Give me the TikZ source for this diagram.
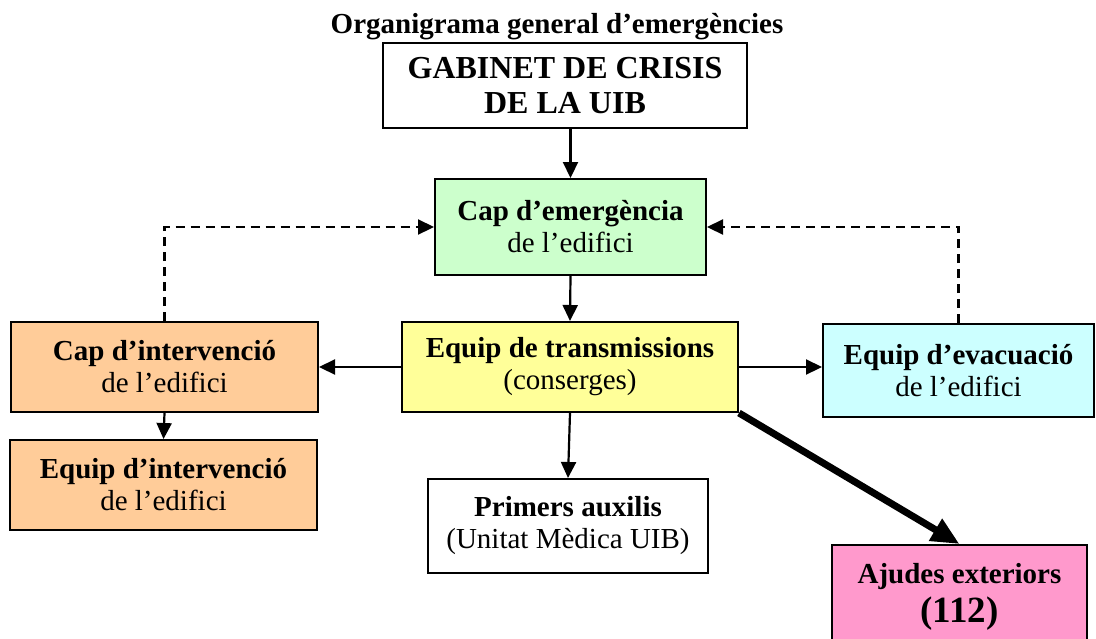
\documentclass[tikz,border=0pt]{standalone}
\usepackage{fontspec}
\setmainfont{Liberation Serif}
\usepackage{tikz}
\usetikzlibrary{calc,positioning,arrows,arrows.meta,shapes}
\definecolor{verd}{HTML}{CCFFCC}
\definecolor{groc}{HTML}{FFFF99}
\definecolor{taronja}{HTML}{FFCC99}
\definecolor{cel}{HTML}{CCFFFF}
\definecolor{rosa}{HTML}{FF99CC}

\begin{document}
\begin{tikzpicture}[x=1pt,y=-1pt]
\tikzstyle{box} = [draw, line width=2pt, inner sep=0pt, align=center, font=\fontsize{29}{32}\selectfont];
\tikzstyle{arr} = [line width=2.2pt, -{Triangle[length=16pt,width=15pt]}];
\tikzstyle{darr} = [arr, dash pattern=on 9pt off 6pt];
\useasboundingbox (0,0) rectangle (1096,638);
\clip (0,0) rectangle (1096,638);
\node[anchor=base, font=\bfseries\fontsize{29}{32}\selectfont] (T) at (557,33) {Organigrama general d’emergències};
\node[box, fill=white, minimum width=364pt, minimum height=85pt, font=\bfseries\fontsize{32}{35}\selectfont] (GAB) at (565,85.5) {GABINET DE CRISIS\\DE LA UIB};
\node[box, fill=verd, minimum width=271pt, minimum height=96pt] (CAP) at (570.5,227) {\textbf{Cap d’emergència}\\de l’edifici};
\node[box, fill=groc, minimum width=336pt, minimum height=90pt] (TR) at (570,367) {\textbf{Equip de transmissions}\\(conserges)};
\node[box, fill=taronja, minimum width=307pt, minimum height=90pt] (CI) at (164.5,367) {\textbf{Cap d’intervenció}\\de l’edifici};
\node[box, fill=taronja, minimum width=307pt, minimum height=90pt] (EI) at (163.5,485) {\textbf{Equip d’intervenció}\\de l’edifici};
\node[box, fill=cel, minimum width=271pt, minimum height=93pt] (EV) at (958.5,370.5) {\textbf{Equip d’evacuació}\\de l’edifici};
\node[box, fill=white, minimum width=280pt, minimum height=94pt] (PA) at (568,526) {\textbf{Primers auxilis}\\(Unitat Mèdica UIB)};
\node[box, fill=rosa, minimum width=255pt, minimum height=104pt, font=\bfseries\fontsize{29}{34}\selectfont] (AE) at (959.5,597) {Ajudes exteriors\\[5pt]{\fontsize{37}{34}\selectfont(112)}};
% fletxes
\draw[arr] (GAB.south -| CAP.north) -- (CAP.north);
\draw[arr] (CAP.south) -- (TR.north);
\draw[arr] (TR.west) -- (CI.east);
\draw[arr] (TR.east) -- (TR.east -| EV.west);
\draw[arr] (TR.south) -- (PA.north);
\draw[arr] (CI.south) -- (EI.north);
\draw[line width=7pt, -{Triangle[length=28pt,width=24pt]}] (TR.south east) -- (AE.north);
\draw[darr] (CI.north) |- (CAP.west);
\draw[darr] (EV.north) |- (CAP.east);
\end{tikzpicture}
\end{document}
